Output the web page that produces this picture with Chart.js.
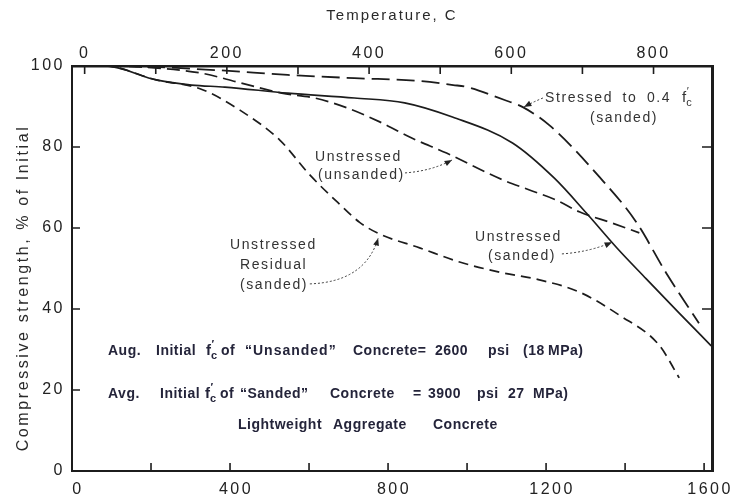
<!DOCTYPE html>
<html>
<head>
<meta charset="utf-8">
<script src="https://cdn.jsdelivr.net/npm/chart.js@4.4.1/dist/chart.umd.min.js"></script>
<style>
  html, body { margin: 0; padding: 0; background: #ffffff; }
  #wrap { width: 740px; height: 500px; }
</style>
</head>
<body>
<div id="wrap"><canvas id="chart" width="740" height="500"></canvas></div>
<script>
// Temperature in °F, strength in % of initial
const stressedF   = [0, 110, 361, 546, 715, 882, 965, 1000, 1095, 1140, 1208, 1335, 1428, 1504, 1587];
const stressedPct = [100, 100, 99.0, 97.8, 97.0, 96.3, 95.3, 94.8, 91.6, 89.9, 85.4, 72.6, 61.5, 48.9, 36.5];

const unsandedF   = [0, 80, 164, 324, 420, 531, 614, 698, 779, 860, 948, 1090, 1158, 1226, 1284, 1368, 1436];
const unsandedPct = [100, 100, 99.8, 98.3, 96.0, 93.3, 92.1, 89.6, 86.2, 82.2, 78.5, 71.9, 69.4, 66.9, 64.0, 61.2, 58.8];

const sandedF     = [0, 83, 216, 303, 387, 546, 715, 842, 963, 1115, 1221, 1302, 1380, 1453, 1537, 1618];
const sandedPct   = [100, 100, 96.5, 95.3, 94.8, 93.3, 92.1, 90.9, 87.4, 81.0, 72.3, 63.7, 55.0, 47.5, 39.0, 30.9];

const residualF   = [0, 83, 216, 324, 425, 526, 602, 677, 728, 779, 880, 981, 1082, 1183, 1284, 1385, 1486, 1537];
const residualPct = [100, 100, 96.5, 94.4, 89.1, 81.7, 73.1, 65.9, 61.4, 58.5, 55.1, 51.6, 49.1, 47.2, 44.2, 38.5, 31.1, 23.0];

// Axis ticks
const fMinorTicks = [0, 200, 400, 600, 800, 1000, 1200, 1400, 1600];
const fLabels     = [0, 400, 800, 1200, 1600];
const cMinorTicks = [0, 100, 200, 300, 400, 500, 600, 700, 800];
const cLabels     = [0, 200, 400, 600, 800];
const pctTicks    = [0, 20, 40, 60, 80, 100];
const rightTicks  = [40, 60, 80];

const F_MAX = 1620;
const toC = f => (f - 32) / 1.8;
const pts = (xs, ys) => xs.map((x, i) => ({ x, y: ys[i] }));

const INK = '#1c1c1c';
const TEXT = '#24243a';
const FONT = 'Liberation Sans';

function lineSet(label, xs, ys, dash, width) {
  return {
    label, data: pts(xs, ys),
    borderColor: INK, borderWidth: width, borderDash: dash,
    pointRadius: 0, fill: false, cubicInterpolationMode: 'monotone'
  };
}

// Dotted leader with a solid arrow head, given in data units
function arrow(ctx, X, Y, p0, c, p1) {
  const x0 = X(p0[0]), y0 = Y(p0[1]), cx = X(c[0]), cy = Y(c[1]), x1 = X(p1[0]), y1 = Y(p1[1]);
  ctx.save();
  ctx.strokeStyle = '#3a3a3a';
  ctx.lineWidth = 1;
  ctx.setLineDash([2, 2]);
  ctx.beginPath();
  ctx.moveTo(x0, y0);
  ctx.quadraticCurveTo(cx, cy, x1, y1);
  ctx.stroke();
  ctx.setLineDash([]);
  const a = Math.atan2(y1 - cy, x1 - cx);
  ctx.fillStyle = '#222';
  ctx.beginPath();
  ctx.moveTo(x1, y1);
  ctx.lineTo(x1 - 8 * Math.cos(a - 0.38), y1 - 8 * Math.sin(a - 0.38));
  ctx.lineTo(x1 - 8 * Math.cos(a + 0.38), y1 - 8 * Math.sin(a + 0.38));
  ctx.closePath();
  ctx.fill();
  ctx.restore();
}

// f'c : f with a prime and a subscript c
function drawFc(ctx, x, y, size, weight) {
  ctx.save();
  ctx.textAlign = 'left';
  ctx.textBaseline = 'middle';
  ctx.letterSpacing = '0px';
  ctx.font = weight + ' ' + size + 'px ' + FONT;
  ctx.fillText('f', x, y);
  const w = ctx.measureText('f').width;
  ctx.font = weight + ' ' + Math.round(size * 0.7) + 'px ' + FONT;
  ctx.fillText('\u2032', x + w + 0.5, y - size * 0.42);
  ctx.fillText('c', x + w, y + size * 0.3);
  ctx.restore();
}

const decor = {
  id: 'decor',
  beforeDraw(chart) {
    chart.ctx.letterSpacing = '2.5px';
  },
  afterDatasetsDraw(chart) {
    const { ctx, scales } = chart;
    const x = scales.x, xc = scales.xc, y = scales.y;
    const L = chart.chartArea.left, R = chart.chartArea.right;
    const T = chart.chartArea.top, B = chart.chartArea.bottom;
    ctx.save();
    ctx.strokeStyle = INK;
    ctx.lineWidth = 1.6;
    ctx.beginPath();
    fMinorTicks.forEach(v => { const px = x.getPixelForValue(v); ctx.moveTo(px, B); ctx.lineTo(px, B - 8); });
    cMinorTicks.forEach(v => { const px = xc.getPixelForValue(v); ctx.moveTo(px, T); ctx.lineTo(px, T + 8); });
    pctTicks.forEach(v => { const py = y.getPixelForValue(v); ctx.moveTo(L, py); ctx.lineTo(L + 8, py); });
    rightTicks.forEach(v => { const py = y.getPixelForValue(v); ctx.moveTo(R, py); ctx.lineTo(R - 10, py); });
    ctx.stroke();
    ctx.restore();
  },
  afterDraw(chart) {
    const { ctx, scales } = chart;
    const X = v => scales.x.getPixelForValue(v);
    const Y = v => scales.y.getPixelForValue(v);
    ctx.save();
    ctx.fillStyle = '#2a2a2a';
    ctx.textBaseline = 'middle';

    // Axis titles
    ctx.textAlign = 'center';
    ctx.letterSpacing = '2px';
    ctx.font = '15px ' + FONT;
    ctx.fillText('Temperature, C', 392, 16);
    ctx.save();
    ctx.translate(24, 288);
    ctx.rotate(-Math.PI / 2);
    ctx.letterSpacing = '2.6px';
    ctx.font = '16px ' + FONT;
    ctx.fillText('Compressive strength, % of Initial', 0, 0);
    ctx.restore();

    // Curve labels
    ctx.fillStyle = '#333';
    ctx.font = '14px ' + FONT;
    ctx.letterSpacing = '1.6px';
    ctx.textAlign = 'left';
    ctx.wordSpacing = '4px';
    ctx.fillText('Stressed to 0.4', 545, 98);
    ctx.wordSpacing = '0px';
    drawFc(ctx, 682, 98, 15, 'normal');
    ctx.fillText('(sanded)', 590, 118);

    ctx.fillText('Unstressed', 315, 157);
    ctx.fillText('(unsanded)', 318, 175);

    ctx.fillText('Unstressed', 230, 245);
    ctx.fillText('Residual', 240, 265);
    ctx.fillText('(sanded)', 240, 285);

    ctx.fillText('Unstressed', 475, 237);
    ctx.fillText('(sanded)', 488, 256);

    // Leader arrows to the curves
    arrow(ctx, X, Y, [1192, 92.1], [1167, 91.1], [1144, 89.9]);
    arrow(ctx, X, Y, [843, 73.6], [911, 74.1], [962, 76.8]);
    arrow(ctx, X, Y, [602, 46.2], [742, 46.7], [775, 57.5]);
    arrow(ctx, X, Y, [1240, 53.6], [1311, 54.1], [1367, 56.5]);

    // Notes
    ctx.fillStyle = TEXT;
    ctx.textAlign = 'left';
    ctx.font = 'bold 14px ' + FONT;
    const row = (items, yy) => items.forEach(([t, xx, sp]) => {
      if (t === 'fc') { drawFc(ctx, xx, yy, 15, 'bold'); return; }
      ctx.letterSpacing = (sp || 0.5) + 'px';
      ctx.fillText(t, xx, yy);
    });
    row([['Aug.', 108], ['Initial', 156], ['fc', 206], ['of', 221], ['\u201CUnsanded\u201D', 245, 1.0], ['Concrete=', 353],
         ['2600', 435], ['psi', 488], ['(18', 523], ['MPa)', 548]], 351);
    row([['Avg.', 108], ['Initial', 160], ['fc', 205], ['of', 220], ['\u201CSanded\u201D', 240], ['Concrete', 330],
         ['=', 413], ['3900', 428], ['psi', 477], ['27', 508], ['MPa)', 533]], 394);
    row([['Lightweight', 238], ['Aggregate', 333], ['Concrete', 433]], 425);
    ctx.restore();
  }
};

const tickFont = { family: FONT, size: 16 };
const plain = v => String(v);

new Chart(document.getElementById('chart'), {
  type: 'line',
  data: {
    datasets: [
      lineSet('Stressed to 0.4 f\'c (sanded)', stressedF, stressedPct, [18, 7], 1.8),
      lineSet('Unstressed (unsanded)', unsandedF, unsandedPct, [13, 6], 1.7),
      lineSet('Unstressed (sanded)', sandedF, sandedPct, [], 1.7),
      lineSet('Unstressed Residual (sanded)', residualF, residualPct, [10, 6], 1.7)
    ]
  },
  options: {
    responsive: false,
    devicePixelRatio: 1,
    animation: false,
    layout: { padding: 0 },
    plugins: { legend: { display: false }, tooltip: { enabled: false }, title: { display: false } },
    scales: {
      x: {
        type: 'linear', position: 'bottom', min: 0, max: F_MAX,
        afterBuildTicks: s => { s.ticks = fLabels.map(v => ({ value: v })); },
        afterFit: s => { s.height = 29; },
        grid: { display: false, drawTicks: false },
        border: { display: true, color: INK, width: 2 },
        ticks: { font: tickFont, color: '#222', padding: 9, labelOffset: 6, maxRotation: 0, autoSkip: false, callback: plain }
      },
      xc: {
        type: 'linear', position: 'top', min: toC(0), max: toC(F_MAX),
        afterBuildTicks: s => { s.ticks = cLabels.map(v => ({ value: v })); },
        afterFit: s => { s.height = 66; },
        grid: { display: false, drawTicks: false },
        border: { display: true, color: INK, width: 2.5 },
        ticks: { font: tickFont, color: '#222', padding: 3, maxRotation: 0, autoSkip: false, callback: plain }
      },
      y: {
        type: 'linear', position: 'left', min: 0, max: 100,
        afterBuildTicks: s => { s.ticks = pctTicks.map(v => ({ value: v })); },
        afterFit: s => { s.width = 72; },
        grid: { display: false, drawTicks: false },
        border: { display: true, color: INK, width: 2 },
        ticks: { font: tickFont, color: '#222', padding: 7, callback: plain }
      },
      yr: {
        type: 'linear', position: 'right', min: 0, max: 100,
        afterFit: s => { s.width = 28; },
        grid: { display: false, drawTicks: false },
        border: { display: true, color: INK, width: 3 },
        ticks: { display: false }
      }
    }
  },
  plugins: [decor]
});
</script>
</body>
</html>
